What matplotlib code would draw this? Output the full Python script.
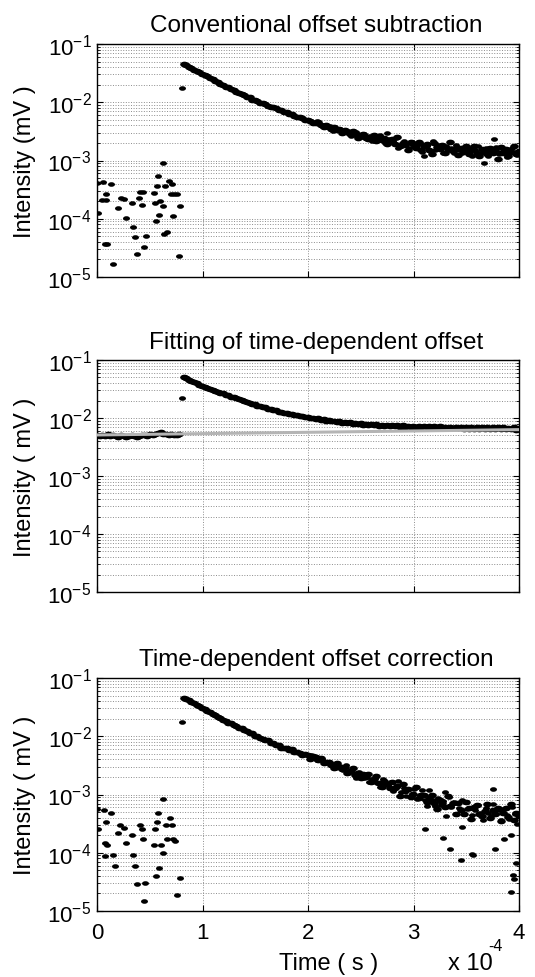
import numpy as np
import matplotlib
matplotlib.use('Agg')
import matplotlib.pyplot as plt
from matplotlib.ticker import FixedLocator, FixedFormatter, NullFormatter
from matplotlib.path import Path
from matplotlib.transforms import Affine2D

plt.rcParams['font.family'] = ['Liberation Sans', 'DejaVu Sans']
plt.rcParams['mathtext.fontset'] = 'custom'
plt.rcParams['mathtext.rm'] = 'Liberation Sans'
plt.rcParams['mathtext.it'] = 'Liberation Sans:italic'
plt.rcParams['mathtext.bf'] = 'Liberation Sans:bold'

# ---------------- text ----------------
titles = ['Conventional offset subtraction',
          'Fitting of time-dependent offset',
          'Time-dependent offset correction']
ylabels = ['Intensity (mV )', 'Intensity ( mV )', 'Intensity ( mV )']
xlabel = 'Time ( s )'
y_ticks = [1e-5, 1e-4, 1e-3, 1e-2, 1e-1]
y_tick_labels = [r'$\mathregular{10^{-5}}$', r'$\mathregular{10^{-4}}$', r'$\mathregular{10^{-3}}$',
                 r'$\mathregular{10^{-2}}$', r'$\mathregular{10^{-1}}$']
x_ticks = [0, 1e-4, 2e-4, 3e-4, 4e-4]
x_tick_labels = ['0', '1', '2', '3', '4']

# ---------------- data (intensity in mV, time in s) ----------------
decay_t = np.linspace(0.82e-4, 4.0e-4, 128)      # sample times of the decay
tail_t = np.linspace(2.0325e-4, 3.9825e-4, 79)   # interleaved samples in the noisy tail

# jump point right before decay
jump_t = 0.805e-4
jump_top, jump_mid, jump_bot = 0.0173, 0.0225, 0.0173

# --- panel 1: conventional offset subtraction
pre_t_top = [0.0, 0.006, 0.060, 0.044, 0.085, 0.076, 0.092, 0.088, 0.136, 0.155, 0.199, 0.224,
             0.256, 0.275, 0.329, 0.338, 0.357, 0.376, 0.402, 0.408, 0.433, 0.424, 0.449, 0.462,
             0.541, 0.550, 0.560, 0.572, 0.582, 0.598, 0.591, 0.623, 0.629, 0.645, 0.639, 0.667,
             0.686, 0.699, 0.708, 0.718, 0.730, 0.756, 0.778, 0.790]
pre_t_top = [v * 1e-4 for v in pre_t_top]
pre_v_top = [4.19e-4, 1.28e-4, 4.30e-4, 2.11e-4, 2.11e-4, 3.65e-5, 3.65e-5, 2.64e-4, 3.92e-4, 1.65e-5,
             1.56e-4, 2.31e-4, 2.16e-4, 1.05e-4, 1.85e-4, 7.2e-5, 4.8e-5, 2.45e-5, 2.24e-4, 2.88e-4,
             2.88e-4, 1.75e-4, 3.3e-5, 5.0e-5, 2.82e-4, 1.90e-4, 9.1e-5, 3.67e-4, 5.45e-4, 2.04e-4,
             1.15e-4, 9.0e-4, 1.66e-4, 3.67e-4, 5.4e-5, 6.0e-5, 4.47e-4, 2.63e-4, 3.92e-4, 1.12e-4,
             2.63e-4, 2.63e-4, 2.3e-5, 1.66e-4]
decay_top = [0.0457, 0.0434, 0.0407, 0.0388, 0.0364, 0.0347, 0.0325, 0.0311,
             0.0290, 0.0279, 0.0260, 0.0250, 0.0232, 0.0224, 0.0207, 0.0201, 0.0186, 0.0180,
             0.0167, 0.0163, 0.0151, 0.0147, 0.0136, 0.0133, 0.0123, 0.0121, 0.0111, 0.0109,
             0.0104, 0.00974, 0.00956, 0.00942, 0.00875, 0.00821, 0.00829, 0.00782, 0.00741, 0.00748,
             0.00693, 0.00677, 0.00625, 0.00631, 0.00591, 0.00560, 0.00565, 0.00531, 0.00490, 0.00493,
             0.00481, 0.00440, 0.00444, 0.00451, 0.00407, 0.00375, 0.00400, 0.00374, 0.00351, 0.00375,
             0.00337, 0.00346, 0.00297, 0.00334, 0.00303, 0.00283, 0.00318, 0.00289, 0.00248, 0.00279,
             0.00289, 0.00247, 0.00232, 0.00250, 0.00275, 0.00216, 0.00243, 0.00223, 0.00240, 0.00194,
             0.00215, 0.00236, 0.00192, 0.00253, 0.00178, 0.00202, 0.00188, 0.00154, 0.00209, 0.00191,
             0.00167, 0.00208, 0.00151, 0.00177, 0.00190, 0.00152, 0.00130, 0.00199, 0.00171, 0.00155,
             0.00182, 0.00135, 0.00158, 0.00204, 0.00143, 0.00163, 0.00126, 0.00166, 0.00146, 0.00175,
             0.00130, 0.00153, 0.00180, 0.00136, 0.00118, 0.00156, 0.00146, 0.00129, 0.00164, 0.00135,
             0.00150, 0.00108, 0.00169, 0.00137, 0.00155, 0.00120, 0.00139, 0.00175, 0.00127, 0.00144]
tail_top = [0.00470, 0.00437, 0.00468, 0.00420, 0.00387, 0.00407, 0.00377, 0.00392, 0.00325, 0.00352,
            0.00329, 0.00353, 0.00303, 0.00313, 0.00315, 0.00265, 0.00278, 0.00309, 0.00278, 0.00249,
            0.00290, 0.00251, 0.00268, 0.00216, 0.00250, 0.00222, 0.00277, 0.00226, 0.00199, 0.00236,
            0.00205, 0.00217, 0.00242, 0.00161, 0.00180, 0.00212, 0.00194, 0.00163, 0.00211, 0.00169,
            0.00188, 0.00202, 0.00138, 0.00168, 0.00177, 0.00148, 0.00213, 0.00151, 0.00185, 0.00161,
            0.00133, 0.00175, 0.00151, 0.00165, 0.00133, 0.00183, 0.00154, 0.00132, 0.00139, 0.00170,
            0.00160, 0.00119, 0.00151, 0.00175, 0.00130, 0.00140, 0.00162, 0.00120, 0.00153, 0.00138,
            0.00173, 0.00129, 0.00140, 0.00154, 0.00115, 0.00133, 0.00163, 0.00141, 0.00124]
extra_t_top = [2.75e-4, 3.10e-4, 3.665e-4, 3.76e-4]
extra_v_top = [3.0e-3, 1.2e-3, 8.9e-4, 2.3e-3]

# --- panel 2: fitting of time-dependent offset
pre_t_mid = np.linspace(0.0, 0.78e-4, 32)
pre_v_mid = [0.00500, 0.00485, 0.00510, 0.00495, 0.00520, 0.00480, 0.00505, 0.00490,
             0.00470, 0.00500, 0.00485, 0.00475, 0.00495, 0.00505, 0.00480, 0.00465,
             0.00490, 0.00500, 0.00515, 0.00495, 0.00520, 0.00505, 0.00530, 0.00550,
             0.00575, 0.00540, 0.00520, 0.00510, 0.00530, 0.00515, 0.00505, 0.00520]
decay_mid = [0.0501, 0.0480, 0.0452, 0.0435, 0.0410, 0.0396, 0.0372, 0.0358,
             0.0340, 0.0332, 0.0316, 0.0308, 0.0293, 0.0286, 0.0272, 0.0266, 0.0252, 0.0247,
             0.0234, 0.0230, 0.0217, 0.0213, 0.0202, 0.0198, 0.0187, 0.0184, 0.0173, 0.0171,
             0.0162, 0.0161, 0.0153, 0.0152, 0.0144, 0.0144, 0.0136, 0.0136, 0.0128, 0.0129,
             0.0122, 0.0123, 0.0117, 0.0119, 0.0112, 0.0114, 0.0108, 0.0110, 0.0104, 0.0106,
             0.0100, 0.0102, 0.00965, 0.00990, 0.00935, 0.00960, 0.00905, 0.00930, 0.00875, 0.00900,
             0.00850, 0.00885, 0.00835, 0.00870, 0.00815, 0.00855, 0.00800, 0.00830, 0.00785, 0.00810,
             0.00770, 0.00800, 0.00760, 0.00790, 0.00750, 0.00785, 0.00740, 0.00770, 0.00730, 0.00765,
             0.00725, 0.00755, 0.00715, 0.00750, 0.00710, 0.00745, 0.00705, 0.00740, 0.00700, 0.00730,
             0.00695, 0.00728, 0.00690, 0.00725, 0.00688, 0.00720, 0.00680, 0.00722, 0.00675, 0.00715,
             0.00672, 0.00712, 0.00668, 0.00710, 0.00665, 0.00705, 0.00660, 0.00708, 0.00658, 0.00700,
             0.00655, 0.00698, 0.00650, 0.00700, 0.00648, 0.00695, 0.00645, 0.00692, 0.00642, 0.00690,
             0.00640, 0.00688, 0.00638, 0.00690, 0.00636, 0.00685, 0.00635, 0.00688, 0.00632, 0.00680]
fit_t = [0.0, 4.0e-4]
fit_v = [0.0051, 0.0063]

# --- panel 3: time-dependent offset correction
pre_t_bot = [0.0, 0.006, 0.063, 0.085, 0.073, 0.092, 0.079, 0.133, 0.155, 0.174, 0.202, 0.218,
             0.256, 0.275, 0.329, 0.338, 0.360, 0.376, 0.408, 0.430, 0.435, 0.449, 0.459, 0.540,
             0.550, 0.566, 0.582, 0.560, 0.590, 0.604, 0.623, 0.630, 0.652, 0.661, 0.693, 0.709,
             0.718, 0.743, 0.756, 0.790]
pre_t_bot = [v * 1e-4 for v in pre_t_bot]
pre_v_bot = [5.56e-4, 2.52e-4, 5.5e-4, 3.39e-4, 1.45e-4, 1.35e-4, 8.7e-5, 4.79e-4, 9.3e-5, 6.0e-5,
             2.19e-4, 2.95e-4, 2.66e-4, 1.48e-4, 2.04e-4, 9.3e-5, 6.0e-5, 2.95e-5, 2.95e-4, 2.57e-4,
             1.7e-4, 1.51e-5, 3.0e-5, 1.35e-4, 2.51e-4, 3.39e-4, 4.79e-4, 4.0e-5, 5.4e-5, 1.35e-4,
             1.0e-4, 8.3e-4, 2.95e-4, 1.74e-4, 3.89e-4, 2.95e-4, 1.7e-4, 1.58e-4, 1.9e-5, 3.7e-5]
decay_bot = [0.0459, 0.0432, 0.0412, 0.0385, 0.0368, 0.0344, 0.0329, 0.0307,
             0.0294, 0.0273, 0.0262, 0.0243, 0.0233, 0.0216, 0.0208, 0.0192, 0.0185, 0.0171,
             0.0166, 0.0154, 0.0151, 0.0140, 0.0137, 0.0126, 0.0124, 0.0114, 0.0112, 0.0103,
             0.0103, 0.00942, 0.00887, 0.00875, 0.00865, 0.00768, 0.00768, 0.00716, 0.00706, 0.00632,
             0.00636, 0.00632, 0.00585, 0.00609, 0.00542, 0.00545, 0.00520, 0.00480, 0.00505, 0.00480,
             0.00411, 0.00467, 0.00433, 0.00393, 0.00418, 0.00350, 0.00362, 0.00361, 0.00317, 0.00286,
             0.00346, 0.00302, 0.00275, 0.00295, 0.00234, 0.00252, 0.00290, 0.00219, 0.00232, 0.00190,
             0.00227, 0.00196, 0.00224, 0.00167, 0.00187, 0.00209, 0.00159, 0.00135, 0.00168, 0.00154,
             0.00129, 0.00165, 0.00129, 0.00139, 0.00093, 0.00149, 0.00113, 0.00126, 0.00092, 0.00104,
             0.00136, 0.00086, 0.00098, 0.00097, 0.00075, 0.00084, 0.00099, 0.00072, 0.00057, 0.00080,
             0.00071, 0.00060, 0.00095, 0.00063, 0.00072, 0.00046, 0.00072, 0.00055, 0.00046, 0.00073,
             0.00058, 0.00038, 0.00061, 0.00067, 0.00047, 0.00042, 0.00053, 0.00069, 0.00039, 0.00055,
             0.00046, 0.00058, 0.00035, 0.00048, 0.00058, 0.00041, 0.00070, 0.00037, 0.00048, 0.00043]
tail_bot = [0.00476, 0.00417, 0.00391, 0.00400, 0.00413, 0.00343, 0.00362, 0.00332, 0.00340, 0.00288,
            0.00300, 0.00313, 0.00262, 0.00315, 0.00236, 0.00254, 0.00234, 0.00195, 0.00241, 0.00220,
            0.00192, 0.00227, 0.00166, 0.00186, 0.00193, 0.00156, 0.00132, 0.00188, 0.00159, 0.00143,
            0.00163, 0.00114, 0.00132, 0.00171, 0.00112, 0.00128, 0.00093, 0.00123, 0.00104, 0.00123,
            0.00083, 0.00099, 0.00120, 0.00080, 0.00064, 0.00089, 0.00079, 0.00064, 0.00087, 0.00065,
            0.00078, 0.00043, 0.00090, 0.00062, 0.00074, 0.00047, 0.00058, 0.00082, 0.00047, 0.00057,
            0.00059, 0.00044, 0.00054, 0.00067, 0.00048, 0.00037, 0.00059, 0.00049, 0.00043, 0.00068,
            0.00046, 0.00054, 0.00036, 0.00057, 0.00044, 0.00038, 0.00061, 0.00047, 0.00031]
extra_t_bot = [3.11e-4, 3.276e-4, 3.35e-4, 3.45e-4, 3.46e-4, 3.555e-4, 3.56e-4, 3.776e-4, 3.855e-4,
               3.92e-4, 3.975e-4, 3.94e-4, 3.95e-4, 3.925e-4, 3.75e-4, 3.30e-4, 3.15e-4]
extra_v_bot = [2.57e-4, 1.78e-4, 1.17e-4, 7.6e-5, 2.75e-4, 9.5e-5, 9.0e-5, 1.17e-4, 1.74e-4,
               2.0e-4, 6.6e-5, 4.1e-5, 3.6e-5, 2.1e-5, 1.26e-3, 1.1e-3, 1.2e-3]

# ---------------- figure ----------------
W, H = 535, 978
fig = plt.figure(figsize=(W / 100, H / 100), dpi=100)

def px_axes(left, top, right, bottom):
    return fig.add_axes([left / W, 1 - bottom / H, (right - left) / W, (bottom - top) / H])

axes = [px_axes(97, 45, 519, 278), px_axes(97, 361, 519, 593), px_axes(97, 679, 519, 912)]

# slightly flattened dot, like the reference's MATLAB '.' markers
dot = Affine2D().scale(1.0, 0.66).transform_path(Path.unit_circle())
mk = dict(marker=dot, linestyle='none', color='black', markersize=5.0, markeredgewidth=0)
mk_dense = dict(mk, markersize=6.2)

panels = [
    (pre_t_top, pre_v_top, decay_top, tail_top, jump_top, extra_t_top, extra_v_top),
    (pre_t_mid, pre_v_mid, decay_mid, None, jump_mid, [], []),
    (pre_t_bot, pre_v_bot, decay_bot, tail_bot, jump_bot, extra_t_bot, extra_v_bot),
]

for i, (ax, (pt, pv, dv, tv, jv, et, ev)) in enumerate(zip(axes, panels)):
    ax.set_yscale('log')
    ax.set_xlim(0, 4e-4)
    ax.set_ylim(1e-5, 1e-1)
    ax.plot(pt, pv, **(mk_dense if i == 1 else mk))
    ax.plot([jump_t], [jv], **mk)
    ax.plot(decay_t, dv, **mk_dense)
    if tv is not None:
        ax.plot(tail_t, tv, **mk)
    if et:
        ax.plot(et, ev, **mk)
    if i == 1:
        ax.plot(fit_t, fit_v, color='#b4b4b4', linewidth=2.2, zorder=5)

    ax.yaxis.set_major_locator(FixedLocator(y_ticks))
    ax.yaxis.set_major_formatter(FixedFormatter(y_tick_labels))
    minors = [m * 10.0 ** e for e in range(-5, -1) for m in range(2, 10)]
    ax.yaxis.set_minor_locator(FixedLocator(minors))
    ax.yaxis.set_minor_formatter(NullFormatter())
    ax.xaxis.set_major_locator(FixedLocator(x_ticks))
    if i == 2:
        ax.xaxis.set_major_formatter(FixedFormatter(x_tick_labels))
    else:
        ax.xaxis.set_major_formatter(NullFormatter())

    ax.grid(True, which='major', axis='both', linestyle=':', color='#8c8c8c', linewidth=0.7)
    ax.grid(True, which='minor', axis='y', linestyle=':', color='#8c8c8c', linewidth=0.7)
    ax.tick_params(which='both', direction='in', top=True, right=True, labelsize=16, pad=4)
    ax.tick_params(which='major', length=4, width=0.8)
    ax.tick_params(which='minor', length=2, width=0.6)
    for s in ax.spines.values():
        s.set_linewidth(1.0)

    ax.set_title(titles[i], fontsize=17.5, pad=9, x=0.519)
    ax.set_ylabel(ylabels[i], fontsize=17)
    ax.yaxis.set_label_coords(-0.145, 0.5)

axes[2].tick_params(axis='x', pad=8)
fig.text(329 / W, 1 - 964 / H, xlabel, fontsize=17, ha='center', va='center')
fig.text(470 / W, 1 - 964 / H, 'x 10', fontsize=17, ha='center', va='center')
fig.text(495 / W, 1 - 947 / H, '-4', fontsize=11.5, ha='center', va='center')

fig.savefig('out.png', dpi=100)
